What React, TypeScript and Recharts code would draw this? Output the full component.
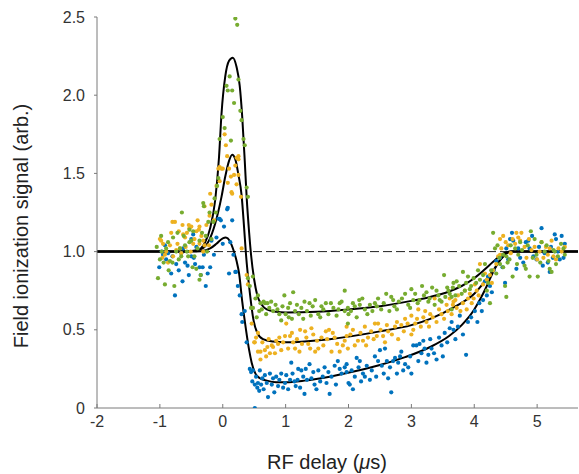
import React from "react";
import {
  ComposedChart,
  Line,
  ReferenceLine,
  Scatter,
  XAxis,
  YAxis,
  Label,
} from "recharts";

// measured points: [delay (us), signal]
const greenPts: number[][] = [
  [-1.05, 1.03], [-1.03, 0.83], [-1.0, 0.95], [-0.98, 1.1], [-0.97, 1.0], [-0.94, 0.93], [-0.92, 0.79],
  [-0.9, 1.02], [-0.87, 1.06], [-0.86, 0.88], [-0.84, 0.94], [-0.8, 0.93], [-0.79, 1.09], [-0.77, 0.78],
  [-0.74, 1.0], [-0.72, 1.12], [-0.7, 0.95], [-0.68, 1.02], [-0.66, 0.97], [-0.65, 1.25], [-0.62, 1.1],
  [-0.6, 1.04], [-0.57, 1.0], [-0.55, 0.97], [-0.53, 1.06], [-0.53, 1.14], [-0.5, 1.07], [-0.48, 0.9],
  [-0.47, 1.13], [-0.45, 0.97], [-0.42, 0.89], [-0.4, 1.02], [-0.37, 1.07], [-0.37, 0.82], [-0.35, 0.85],
  [-0.33, 1.12], [-0.31, 1.31], [-0.3, 1.29], [-0.27, 1.1], [-0.25, 1.0], [-0.23, 1.19], [-0.21, 1.25],
  [-0.18, 1.08], [-0.15, 1.19], [-0.13, 1.34], [-0.11, 1.25], [-0.09, 1.42], [-0.07, 1.47], [-0.05, 1.72],
  [0.0, 1.86], [0.03, 1.79], [0.06, 2.06], [0.08, 2.03], [0.11, 2.12], [0.13, 1.71], [0.15, 2.03],
  [0.18, 1.95], [0.2, 2.49], [0.23, 2.45], [0.25, 2.1], [0.28, 1.9], [0.3, 1.84], [0.33, 1.72],
  [0.35, 1.68], [0.38, 1.41], [0.4, 1.35], [0.4, 0.83], [0.43, 0.78], [0.45, 0.64], [0.48, 0.84],
  [0.48, 0.64], [0.52, 0.7], [0.54, 0.58], [0.56, 0.72], [0.58, 0.62], [0.6, 0.67], [0.62, 0.63],
  [0.65, 0.68], [0.67, 0.67], [0.69, 0.6], [0.71, 0.67], [0.74, 0.64], [0.77, 0.68], [0.8, 0.62],
  [0.84, 0.66], [0.87, 0.63], [0.9, 0.6], [0.93, 0.56], [0.95, 0.65], [0.98, 0.72], [1.0, 0.6],
  [1.04, 0.64], [1.05, 0.58], [1.07, 0.67], [1.1, 0.57], [1.12, 0.74], [1.15, 0.62], [1.18, 0.66],
  [1.21, 0.6], [1.25, 0.64], [1.28, 0.57], [1.3, 0.68], [1.34, 0.62], [1.38, 0.67], [1.4, 0.59],
  [1.43, 0.65], [1.47, 0.69], [1.52, 0.6], [1.55, 0.58], [1.57, 0.65], [1.6, 0.63], [1.64, 0.67],
  [1.68, 0.6], [1.72, 0.67], [1.76, 0.64], [1.81, 0.59], [1.84, 0.63], [1.86, 0.67], [1.89, 0.68],
  [1.94, 0.62], [1.94, 0.75], [1.99, 0.64], [1.99, 0.54], [2.0, 0.6], [2.04, 0.62], [2.07, 0.67],
  [2.1, 0.65], [2.13, 0.58], [2.17, 0.69], [2.18, 0.66], [2.22, 0.7], [2.26, 0.63], [2.3, 0.6],
  [2.34, 0.66], [2.38, 0.62], [2.42, 0.67], [2.45, 0.65], [2.47, 0.7], [2.52, 0.63], [2.56, 0.67],
  [2.6, 0.73], [2.65, 0.62], [2.68, 0.71], [2.71, 0.69], [2.73, 0.65], [2.77, 0.63], [2.8, 0.68],
  [2.85, 0.7], [2.9, 0.73], [2.95, 0.66], [2.98, 0.64], [3.0, 0.76], [3.03, 0.69], [3.06, 0.73],
  [3.1, 0.67], [3.13, 0.69], [3.17, 0.78], [3.2, 0.72], [3.24, 0.74], [3.27, 0.68], [3.29, 0.7],
  [3.33, 0.77], [3.37, 0.66], [3.4, 0.75], [3.43, 0.72], [3.45, 0.69], [3.48, 0.68], [3.52, 0.85],
  [3.54, 0.71], [3.57, 0.77], [3.59, 0.75], [3.61, 0.73], [3.64, 0.63], [3.64, 0.71], [3.66, 0.77],
  [3.67, 0.8], [3.7, 0.72], [3.72, 0.81], [3.76, 0.78], [3.8, 0.73], [3.82, 0.87], [3.85, 0.75],
  [3.87, 0.8], [3.9, 0.84], [3.93, 0.76], [3.95, 0.78], [3.99, 0.83], [4.03, 0.8], [4.06, 0.88],
  [4.09, 0.82], [4.14, 0.85], [4.17, 0.92], [4.2, 0.75], [4.22, 0.8], [4.25, 0.67], [4.27, 0.88],
  [4.3, 1.12], [4.33, 1.02], [4.35, 0.86], [4.37, 1.04], [4.4, 0.96], [4.41, 0.92], [4.46, 0.9],
  [4.46, 0.98], [4.49, 0.78], [4.51, 0.71], [4.51, 0.97], [4.53, 0.93], [4.56, 0.95], [4.58, 1.04],
  [4.61, 0.84], [4.65, 1.02], [4.68, 0.92], [4.7, 0.98], [4.73, 1.06], [4.76, 1.01], [4.8, 0.91],
  [4.82, 0.89], [4.85, 1.04], [4.88, 0.84], [4.9, 1.13], [4.93, 0.96], [4.96, 1.08], [4.99, 0.98],
  [5.01, 0.84], [5.05, 0.93], [5.07, 1.06], [5.12, 1.0], [5.15, 1.04], [5.18, 0.94], [5.2, 0.89],
  [5.23, 0.87], [5.26, 1.01], [5.28, 1.0], [5.3, 0.92], [5.33, 0.97], [5.38, 1.05], [5.42, 1.02],
  [5.44, 0.98],
];

const orangePts: number[][] = [
  [-1.0, 1.08], [-0.98, 1.07], [-0.96, 0.96], [-0.95, 1.05], [-0.92, 0.98], [-0.9, 1.0], [-0.87, 0.93],
  [-0.84, 1.04], [-0.82, 1.12], [-0.8, 1.19], [-0.79, 0.97], [-0.76, 1.19], [-0.74, 1.01], [-0.72, 1.05],
  [-0.7, 1.13], [-0.68, 1.02], [-0.66, 0.99], [-0.64, 1.17], [-0.63, 1.11], [-0.6, 1.09], [-0.59, 1.03],
  [-0.57, 1.12], [-0.54, 1.17], [-0.53, 1.15], [-0.51, 1.0], [-0.5, 1.16], [-0.47, 1.05], [-0.45, 1.08],
  [-0.42, 1.13], [-0.4, 1.2], [-0.38, 1.14], [-0.37, 1.16], [-0.37, 1.05], [-0.34, 1.1], [-0.31, 1.07],
  [-0.31, 1.0], [-0.29, 1.04], [-0.29, 1.29], [-0.26, 1.17], [-0.22, 1.04], [-0.21, 1.23], [-0.2, 1.37],
  [-0.18, 1.3], [-0.14, 1.2], [-0.1, 1.42], [-0.07, 1.53], [-0.05, 1.45], [-0.05, 1.54], [-0.02, 1.53],
  [0.0, 1.53], [0.03, 1.75], [0.05, 1.68], [0.07, 1.61], [0.08, 1.44], [0.1, 1.53], [0.13, 1.48],
  [0.14, 1.38], [0.15, 1.37], [0.18, 1.49], [0.2, 1.55], [0.22, 1.43], [0.22, 1.6], [0.25, 1.59],
  [0.25, 1.61], [0.25, 1.49], [0.29, 1.35], [0.3, 1.02], [0.38, 0.85], [0.4, 0.79], [0.46, 0.54],
  [0.5, 0.42], [0.51, 0.42], [0.53, 0.45], [0.56, 0.48], [0.56, 0.36], [0.6, 0.31], [0.6, 0.36],
  [0.63, 0.42], [0.67, 0.37], [0.69, 0.33], [0.71, 0.39], [0.73, 0.44], [0.75, 0.35], [0.78, 0.4],
  [0.8, 0.39], [0.83, 0.35], [0.85, 0.43], [0.88, 0.41], [0.9, 0.45], [0.93, 0.37], [0.96, 0.42],
  [0.99, 0.46], [1.01, 0.54], [1.04, 0.38], [1.07, 0.46], [1.1, 0.48], [1.12, 0.42], [1.15, 0.38],
  [1.18, 0.44], [1.22, 0.36], [1.23, 0.5], [1.26, 0.41], [1.31, 0.49], [1.33, 0.45], [1.36, 0.41],
  [1.39, 0.38], [1.41, 0.51], [1.44, 0.47], [1.47, 0.36], [1.5, 0.43], [1.52, 0.38], [1.57, 0.45],
  [1.6, 0.4], [1.64, 0.49], [1.66, 0.44], [1.69, 0.5], [1.73, 0.36], [1.75, 0.48], [1.78, 0.45],
  [1.82, 0.41], [1.86, 0.36], [1.91, 0.4], [1.94, 0.43], [1.97, 0.46], [1.97, 0.52], [1.99, 0.38],
  [2.03, 0.47], [2.07, 0.5], [2.1, 0.4], [2.15, 0.43], [2.19, 0.48], [2.23, 0.43], [2.26, 0.52],
  [2.28, 0.4], [2.31, 0.45], [2.36, 0.49], [2.4, 0.44], [2.42, 0.54], [2.45, 0.46], [2.47, 0.54],
  [2.51, 0.5], [2.55, 0.46], [2.58, 0.42], [2.61, 0.53], [2.63, 0.49], [2.69, 0.47], [2.74, 0.52],
  [2.77, 0.55], [2.79, 0.44], [2.84, 0.53], [2.88, 0.49], [2.9, 0.57], [2.94, 0.54], [3.0, 0.59],
  [3.0, 0.47], [3.03, 0.5], [3.06, 0.54], [3.09, 0.57], [3.11, 0.63], [3.15, 0.52], [3.19, 0.58],
  [3.22, 0.62], [3.24, 0.55], [3.28, 0.52], [3.3, 0.6], [3.34, 0.58], [3.37, 0.7], [3.4, 0.55],
  [3.44, 0.63], [3.48, 0.6], [3.52, 0.57], [3.56, 0.66], [3.58, 0.62], [3.61, 0.7], [3.64, 0.6],
  [3.66, 0.66], [3.67, 0.68], [3.7, 0.69], [3.72, 0.64], [3.74, 0.72], [3.78, 0.62], [3.82, 0.67],
  [3.85, 0.75], [3.88, 0.63], [3.9, 0.7], [3.93, 0.73], [3.96, 0.67], [3.99, 0.7], [4.01, 0.79],
  [4.04, 0.75], [4.07, 0.72], [4.09, 0.92], [4.14, 0.79], [4.17, 0.86], [4.2, 0.82], [4.25, 0.85],
  [4.28, 0.8], [4.3, 0.88], [4.35, 0.92], [4.38, 0.97], [4.41, 0.98], [4.41, 1.08], [4.43, 1.02],
  [4.46, 1.1], [4.5, 1.06], [4.54, 1.04], [4.58, 0.99], [4.61, 1.08], [4.65, 1.05], [4.67, 1.12],
  [4.7, 1.09], [4.73, 1.07], [4.75, 1.12], [4.8, 1.03], [4.83, 0.96], [4.87, 1.08], [4.91, 1.01],
  [4.96, 1.03], [5.0, 0.95], [5.04, 1.0], [5.07, 1.06], [5.1, 0.96], [5.14, 1.03], [5.17, 0.98],
  [5.2, 1.02], [5.23, 1.07], [5.26, 0.97], [5.3, 0.95], [5.34, 1.02], [5.39, 1.0], [5.44, 1.03],
];

const bluePts: number[][] = [
  [-1.01, 0.9], [-0.97, 1.0], [-0.95, 0.98], [-0.92, 1.04], [-0.9, 0.95], [-0.87, 0.99], [-0.82, 0.86],
  [-0.8, 0.97], [-0.76, 0.72], [-0.74, 0.92], [-0.7, 0.88], [-0.66, 0.99], [-0.64, 0.81], [-0.63, 1.02],
  [-0.6, 0.93], [-0.56, 0.91], [-0.54, 0.85], [-0.5, 0.97], [-0.5, 1.08], [-0.47, 1.11], [-0.46, 0.96],
  [-0.44, 0.92], [-0.42, 1.03], [-0.37, 0.9], [-0.35, 0.85], [-0.32, 0.9], [-0.3, 0.98], [-0.27, 0.78],
  [-0.24, 0.86], [-0.2, 0.9], [-0.18, 1.07], [-0.14, 0.98], [-0.1, 1.09], [-0.07, 1.21], [-0.05, 1.21],
  [-0.03, 1.2], [0.0, 1.05], [0.02, 1.16], [0.07, 1.27], [0.08, 1.28], [0.1, 0.86], [0.12, 1.06],
  [0.15, 1.2], [0.17, 0.98], [0.2, 0.87], [0.21, 0.87], [0.24, 0.78], [0.27, 0.72], [0.3, 0.6],
  [0.31, 0.55], [0.35, 0.62], [0.38, 0.42], [0.43, 0.25], [0.45, 0.23], [0.47, 0.17], [0.48, 0.24],
  [0.51, 0.15], [0.51, 0.0], [0.53, 0.2], [0.55, 0.13], [0.56, 0.16], [0.58, 0.11], [0.59, 0.24],
  [0.61, 0.15], [0.63, 0.19], [0.65, 0.12], [0.67, 0.21], [0.7, 0.16], [0.72, 0.07], [0.75, 0.22],
  [0.78, 0.15], [0.8, 0.19], [0.82, 0.1], [0.85, 0.2], [0.88, 0.14], [0.9, 0.18], [0.93, 0.22],
  [0.96, 0.13], [0.99, 0.16], [1.01, 0.21], [1.04, 0.12], [1.07, 0.18], [1.09, 0.29], [1.11, 0.22],
  [1.14, 0.17], [1.16, 0.14], [1.19, 0.18], [1.2, 0.25], [1.23, 0.13], [1.25, 0.24], [1.28, 0.2],
  [1.3, 0.09], [1.32, 0.25], [1.34, 0.18], [1.38, 0.28], [1.41, 0.19], [1.44, 0.23], [1.46, 0.15],
  [1.49, 0.12], [1.52, 0.24], [1.55, 0.17], [1.59, 0.2], [1.62, 0.26], [1.65, 0.16], [1.68, 0.23],
  [1.7, 0.09], [1.73, 0.2], [1.78, 0.27], [1.8, 0.15], [1.83, 0.3], [1.86, 0.25], [1.89, 0.22],
  [1.94, 0.26], [1.97, 0.28], [1.97, 0.23], [2.0, 0.16], [2.02, 0.15], [2.05, 0.24], [2.07, 0.12],
  [2.1, 0.2], [2.13, 0.32], [2.16, 0.26], [2.18, 0.3], [2.2, 0.17], [2.23, 0.22], [2.26, 0.2],
  [2.29, 0.27], [2.34, 0.18], [2.37, 0.24], [2.42, 0.33], [2.44, 0.2], [2.47, 0.3], [2.5, 0.37],
  [2.53, 0.27], [2.56, 0.22], [2.58, 0.38], [2.61, 0.3], [2.63, 0.19], [2.66, 0.26], [2.68, 0.1],
  [2.71, 0.3], [2.74, 0.32], [2.77, 0.22], [2.79, 0.29], [2.82, 0.33], [2.84, 0.36], [2.87, 0.24],
  [2.9, 0.28], [2.95, 0.26], [2.98, 0.33], [3.0, 0.22], [3.03, 0.4], [3.08, 0.4], [3.11, 0.3],
  [3.13, 0.41], [3.16, 0.35], [3.19, 0.43], [3.21, 0.38], [3.24, 0.29], [3.27, 0.34], [3.3, 0.44],
  [3.32, 0.38], [3.36, 0.35], [3.4, 0.31], [3.44, 0.45], [3.48, 0.4], [3.5, 0.33], [3.53, 0.48],
  [3.57, 0.42], [3.61, 0.51], [3.64, 0.55], [3.67, 0.5], [3.7, 0.44], [3.74, 0.52], [3.77, 0.59],
  [3.82, 0.47], [3.87, 0.34], [3.9, 0.55], [3.95, 0.58], [4.01, 0.62], [4.05, 0.55], [4.08, 0.67],
  [4.12, 0.62], [4.14, 0.69], [4.17, 0.81], [4.2, 0.72], [4.22, 0.84], [4.25, 0.78], [4.28, 0.74],
  [4.31, 0.88], [4.35, 0.94], [4.41, 0.96], [4.45, 0.9], [4.49, 0.8], [4.51, 1.02], [4.54, 0.95],
  [4.57, 1.08], [4.6, 1.12], [4.62, 1.07], [4.67, 0.89], [4.7, 1.02], [4.73, 0.96], [4.78, 0.93],
  [4.82, 1.06], [4.86, 1.07], [4.88, 1.02], [4.92, 1.1], [4.94, 0.97], [4.99, 0.95], [5.03, 1.03],
  [5.07, 1.15], [5.09, 0.91], [5.12, 0.99], [5.17, 0.93], [5.2, 0.87], [5.22, 1.03], [5.25, 0.96],
  [5.28, 1.11], [5.3, 1.08], [5.33, 1.0], [5.36, 0.95], [5.39, 1.1], [5.42, 0.96], [5.44, 1.05],
];

// fitted curves
const greenFit: number[][] = [
  [-2, 1], [-0.6, 1], [-0.45, 1.005], [-0.35, 1.02], [-0.28, 1.06], [-0.2, 1.15], [-0.12, 1.33],
  [-0.06, 1.6], [-0.02, 1.88], [0.04, 2.12], [0.1, 2.22], [0.16, 2.24], [0.22, 2.18], [0.27, 2.06],
  [0.31, 1.86], [0.35, 1.58], [0.38, 1.35], [0.42, 1.12], [0.45, 0.98], [0.5, 0.82], [0.55, 0.72],
  [0.62, 0.66], [0.7, 0.63], [0.85, 0.615], [1.0, 0.61], [1.5, 0.615], [2.0, 0.63], [2.5, 0.65],
  [3.0, 0.685], [3.3, 0.71], [3.6, 0.745], [3.8, 0.78], [4.0, 0.83], [4.15, 0.88], [4.3, 0.935],
  [4.4, 0.97], [4.5, 0.995], [4.6, 1.0], [5.65, 1.0],
];

const orangeFit: number[][] = [
  [-2, 1], [-0.6, 1], [-0.45, 1.005], [-0.32, 1.02], [-0.22, 1.07], [-0.12, 1.18], [-0.02, 1.35],
  [0.04, 1.48], [0.1, 1.58], [0.15, 1.62], [0.2, 1.59], [0.25, 1.49], [0.3, 1.36], [0.34, 1.15],
  [0.37, 0.98], [0.43, 0.74], [0.49, 0.56], [0.55, 0.48], [0.64, 0.44], [0.8, 0.425], [1.0, 0.42],
  [1.7, 0.44], [2.5, 0.49], [3.0, 0.53], [3.3, 0.57], [3.7, 0.65], [4.0, 0.73], [4.15, 0.8],
  [4.3, 0.88], [4.42, 0.95], [4.52, 0.99], [4.6, 1.0], [5.65, 1.0],
];

const blueFit: number[][] = [
  [-2, 1], [-0.5, 1], [-0.35, 1.003], [-0.2, 1.02], [-0.1, 1.05], [0.0, 1.085], [0.05, 1.09],
  [0.11, 1.07], [0.17, 1.01], [0.22, 0.94], [0.26, 0.86], [0.31, 0.68], [0.37, 0.5], [0.42, 0.37],
  [0.46, 0.29], [0.52, 0.22], [0.59, 0.19], [0.7, 0.175], [0.85, 0.165], [1.0, 0.165], [1.3, 0.175],
  [1.7, 0.2], [2.1, 0.235], [2.5, 0.275], [2.9, 0.325], [3.3, 0.39], [3.6, 0.46], [3.8, 0.53],
  [4.0, 0.63], [4.1, 0.7], [4.2, 0.78], [4.3, 0.87], [4.4, 0.94], [4.48, 0.98], [4.57, 1.0],
  [5.65, 1.0],
];

const xTicks = [-2, -1, 0, 1, 2, 3, 4, 5];
const yTicks = [0, 0.5, 1, 1.5, 2, 2.5];

const toXY = (arr: number[][]) => arr.map(([x, y]) => ({ x, y }));

const FONT = "Liberation Sans, Arial, sans-serif";
const AXIS = "#7a7a7a";

const dot = (color: string) => (p: any) =>
  <circle cx={p.cx} cy={p.cy} r={2.1} fill={color} />;

export default function App() {
  return (
    <div style={{ position: "absolute", left: 0, top: 0, width: 579, height: 474, background: "#fff" }}>
      <ComposedChart
        width={579}
        height={474}
        margin={{ top: 17, right: 1, bottom: 0, left: 0 }}
      >
        <XAxis
          type="number"
          dataKey="x"
          domain={[-2, 5.65]}
          ticks={xTicks}
          allowDataOverflow
          height={66}
          stroke={AXIS}
          tickSize={-4}
          tickMargin={12}
          tick={{ fill: "#333", fontSize: 16, fontFamily: FONT }}
        >
          <Label
            content={() => (
              <text x={327} y={469} textAnchor="middle" fill="#222" fontSize={20} fontFamily={FONT}>
                RF delay (<tspan fontStyle="italic">μ</tspan>s)
              </text>
            )}
          />
        </XAxis>
        <YAxis
          type="number"
          dataKey="y"
          domain={[0, 2.5]}
          ticks={yTicks}
          allowDataOverflow
          width={97}
          stroke={AXIS}
          tickSize={3}
          tickMargin={9}
          tickFormatter={(v: number) => (v === 0 ? "0" : v.toFixed(1))}
          tick={{ fill: "#333", fontSize: 16, fontFamily: FONT }}
        >
          <Label
            content={() => (
              <text
                x={28}
                y={226}
                transform="rotate(-90 28 226)"
                textAnchor="middle"
                fill="#222"
                fontSize={20}
                fontFamily={FONT}
              >
                Field ionization signal (arb.)
              </text>
            )}
          />
        </YAxis>
        <ReferenceLine y={1} stroke="#222" strokeWidth={1} strokeDasharray="9 4" />
        <Scatter data={toXY(bluePts)} dataKey="y" shape={dot("#0072bd")} isAnimationActive={false} />
        <Scatter data={toXY(orangePts)} dataKey="y" shape={dot("#edb120")} isAnimationActive={false} />
        <Scatter data={toXY(greenPts)} dataKey="y" shape={dot("#77ac30")} isAnimationActive={false} />
        <Line data={toXY(blueFit)} dataKey="y" type="monotone" stroke="#000" strokeWidth={2} dot={false} activeDot={false} isAnimationActive={false} />
        <Line data={toXY(orangeFit)} dataKey="y" type="monotone" stroke="#000" strokeWidth={2} dot={false} activeDot={false} isAnimationActive={false} />
        <Line data={toXY(greenFit)} dataKey="y" type="monotone" stroke="#000" strokeWidth={2} dot={false} activeDot={false} isAnimationActive={false} />
      </ComposedChart>
    </div>
  );
}
